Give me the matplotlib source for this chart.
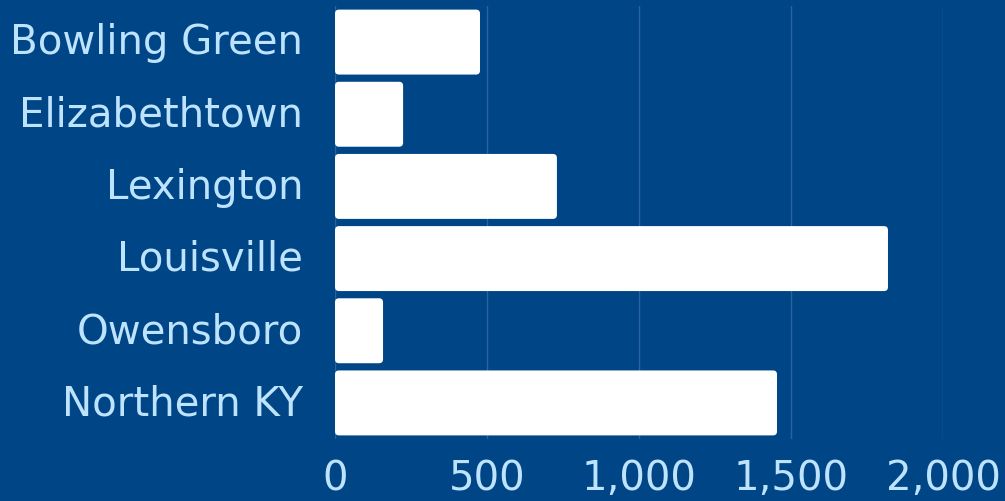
import matplotlib.pyplot as plt
import matplotlib.transforms as mtransforms
from matplotlib.patches import FancyBboxPatch
from matplotlib.ticker import FuncFormatter

# data
cities = ['Bowling Green', 'Elizabethtown', 'Lexington', 'Louisville', 'Owensboro', 'Northern KY']
values = [477, 224, 730, 1819, 158, 1454]
xticks = [0, 500, 1000, 1500, 2000]

bg = '#004687'
txt = '#bde3ff'

plt.rcParams['font.family'] = ['DejaVu Sans']

fig = plt.figure(figsize=(10.05, 5.02), dpi=100, facecolor=bg)
ax = fig.add_axes([335 / 1005, 1 - 440 / 502, (943 - 335) / 1005, 433 / 502])
ax.set_facecolor(bg)

bars = ax.barh(cities, values, height=0.9, color='white')
ax.set_xlim(0, 2000)
ax.set_ylim(5.5, -0.5)

# swap the plain bars for ones with slightly rounded ends
ux = 2000 / 608
uy = 6 / 433
for b in bars:
    b.set_visible(False)
    p = FancyBboxPatch((b.get_x(), b.get_y()), b.get_width(), b.get_height(),
                       boxstyle='round,pad=0,rounding_size=%f' % (4 * ux),
                       mutation_aspect=uy / ux, facecolor='white', edgecolor='none', zorder=3)
    ax.add_patch(p)

ax.set_xticks(xticks)
ax.xaxis.set_major_formatter(FuncFormatter(lambda v, pos: '{:,.0f}'.format(v)))
ax.grid(axis='x', color='#2a64a0', linewidth=1)
ax.set_axisbelow(True)
for s in ax.spines.values():
    s.set_visible(False)
ax.tick_params(axis='both', length=0, labelsize=29, colors=txt)
ax.tick_params(axis='y', pad=23)
ax.tick_params(axis='x', pad=14)

# nudge city names up a little
shift = mtransforms.ScaledTranslation(0, 3 / 72, fig.dpi_scale_trans)
for t in ax.get_yticklabels():
    t.set_transform(t.get_transform() + shift)

fig.savefig('out.png', dpi=100, facecolor=bg)
